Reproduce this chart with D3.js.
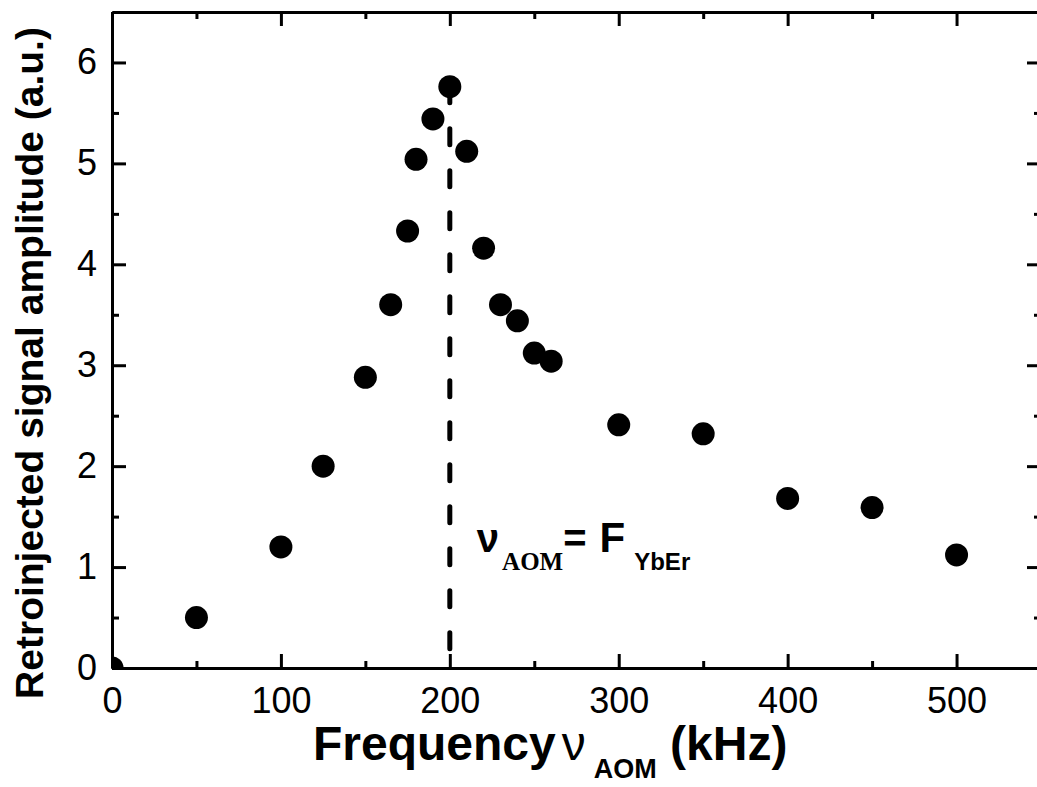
<!DOCTYPE html>
<html>
<head>
<meta charset="utf-8">
<script src="https://cdn.jsdelivr.net/npm/d3@7"></script>
<style>
  body { margin: 0; background: #fff; }
  svg { display: block; }
</style>
</head>
<body>
<div id="chart-area"></div>
<script>
// data
const freqKHz = [0, 50, 100, 125, 150, 165, 175, 180, 190, 200, 210, 220, 230, 240, 250, 260, 300, 350, 400, 450, 500];
const amplitude = [0, 0.5, 1.2, 2.0, 2.88, 3.6, 4.33, 5.04, 5.44, 5.76, 5.12, 4.16, 3.6, 3.44, 3.12, 3.04, 2.41, 2.32, 1.68, 1.59, 1.12];
const xMajorTicks = [0, 100, 200, 300, 400, 500];
const xMinorTicks = [50, 150, 250, 350, 450, 550];
const yMajorTicks = [0, 1, 2, 3, 4, 5, 6];
const yMinorTicks = [0.5, 1.5, 2.5, 3.5, 4.5, 5.5];
const resonance = {freq: 200, top: 5.76};

const margin = {top: 12, right: -4, bottom: 119, left: 112};
const fullW = 1037, fullH = 787;
const width = fullW - margin.left - margin.right;
const height = fullH - margin.top - margin.bottom;

const font = "'Liberation Sans', Arial, sans-serif";

const svg = d3.select("#chart-area")
    .append("svg")
    .attr("width", fullW)
    .attr("height", fullH)
    .style("font-family", font);

const g = svg.append("g")
    .attr("transform", `translate(${margin.left}, ${margin.top})`);

const xScale = d3.scaleLinear().domain([0, 550]).range([0, width]);
const yScale = d3.scaleLinear().domain([0, 6.5]).range([height, 0]);

g.append("clipPath")
    .attr("id", "plot-clip")
    .append("rect")
    .attr("width", width)
    .attr("height", height);

// axes: ticks point inward on all four sides
const styleAxis = sel => {
    sel.select(".domain").attr("stroke", "#000").attr("stroke-width", 3);
    sel.selectAll(".tick line").attr("stroke", "#000").attr("stroke-width", 3);
    sel.selectAll(".tick text").attr("fill", "#000").style("font-size", "36px").style("font-family", font);
};

g.append("g")
    .attr("transform", `translate(0, ${height})`)
    .call(d3.axisBottom(xScale).tickValues(xMinorTicks).tickSize(-7).tickSizeOuter(0).tickFormat(""))
    .call(styleAxis);
g.append("g")
    .attr("transform", `translate(0, ${height})`)
    .call(d3.axisBottom(xScale).tickValues(xMajorTicks).tickSize(-14).tickSizeOuter(0).tickPadding(19))
    .call(styleAxis);

g.append("g")
    .call(d3.axisTop(xScale).tickValues(xMinorTicks).tickSize(-7).tickSizeOuter(0).tickFormat(""))
    .call(styleAxis);
g.append("g")
    .call(d3.axisTop(xScale).tickValues(xMajorTicks).tickSize(-14).tickSizeOuter(0).tickFormat(""))
    .call(styleAxis);

g.append("g")
    .call(d3.axisLeft(yScale).tickValues(yMinorTicks).tickSize(-7).tickSizeOuter(0).tickFormat(""))
    .call(styleAxis);
g.append("g")
    .call(d3.axisLeft(yScale).tickValues(yMajorTicks).tickSize(-14).tickSizeOuter(0).tickPadding(15).tickFormat(d3.format("d")))
    .call(styleAxis);

g.append("g")
    .attr("transform", `translate(${width}, 0)`)
    .call(d3.axisRight(yScale).tickValues(yMinorTicks).tickSize(-7).tickSizeOuter(0).tickFormat(""))
    .call(styleAxis);
g.append("g")
    .attr("transform", `translate(${width}, 0)`)
    .call(d3.axisRight(yScale).tickValues(yMajorTicks).tickSize(-14).tickSizeOuter(0).tickFormat(""))
    .call(styleAxis);

// dashed marker at the resonance frequency
g.append("line")
    .attr("x1", xScale(resonance.freq))
    .attr("x2", xScale(resonance.freq))
    .attr("y1", yScale(resonance.top))
    .attr("y2", yScale(0))
    .attr("stroke", "#000")
    .attr("stroke-width", 5)
    .attr("stroke-linecap", "round")
    .attr("stroke-dasharray", "16 26");

// data points
g.append("g")
    .attr("clip-path", "url(#plot-clip)")
    .selectAll("circle")
    .data(freqKHz.map((f, i) => ({f: f, a: amplitude[i]})))
    .enter()
    .append("circle")
    .attr("cx", d => xScale(d.f))
    .attr("cy", d => yScale(d.a))
    .attr("r", 11.5)
    .attr("fill", "#000");

// annotation  ν_AOM = F_YbEr
const note = g.append("text")
    .attr("x", xScale(216))
    .attr("y", yScale(1.15))
    .attr("fill", "#000")
    .style("font-weight", "bold");
note.append("tspan").style("font-size", "40px").text("ν");
note.append("tspan")
    .attr("dy", 18)
    .attr("dx", 3)
    .style("font-size", "25px")
    .style("font-family", "'Liberation Serif', 'Times New Roman', serif")
    .text("AOM");
note.append("tspan").attr("dy", -18).style("font-size", "40px").text("=");
note.append("tspan").attr("dx", 13).style("font-size", "42px").text("F");
note.append("tspan").attr("dy", 18).attr("dx", 9).style("font-size", "24px").text("YbEr");

// x axis title
const xTitle = svg.append("text")
    .attr("x", 313)
    .attr("y", 760)
    .attr("fill", "#000")
    .style("font-size", "48px")
    .style("font-weight", "bold");
xTitle.append("tspan").text("Frequency");
xTitle.append("tspan").attr("dx", 6).style("font-weight", "normal").text("ν");
xTitle.append("tspan").attr("dy", 18).attr("dx", 8).style("font-size", "27px").text("AOM");
xTitle.append("tspan").attr("dy", -18).text(" (kHz)");

// y axis title
svg.append("text")
    .attr("transform", "translate(43, 363) rotate(-90)")
    .attr("text-anchor", "middle")
    .attr("fill", "#000")
    .style("font-size", "39px")
    .style("font-weight", "bold")
    .text("Retroinjected signal amplitude (a.u.)");
</script>
</body>
</html>
